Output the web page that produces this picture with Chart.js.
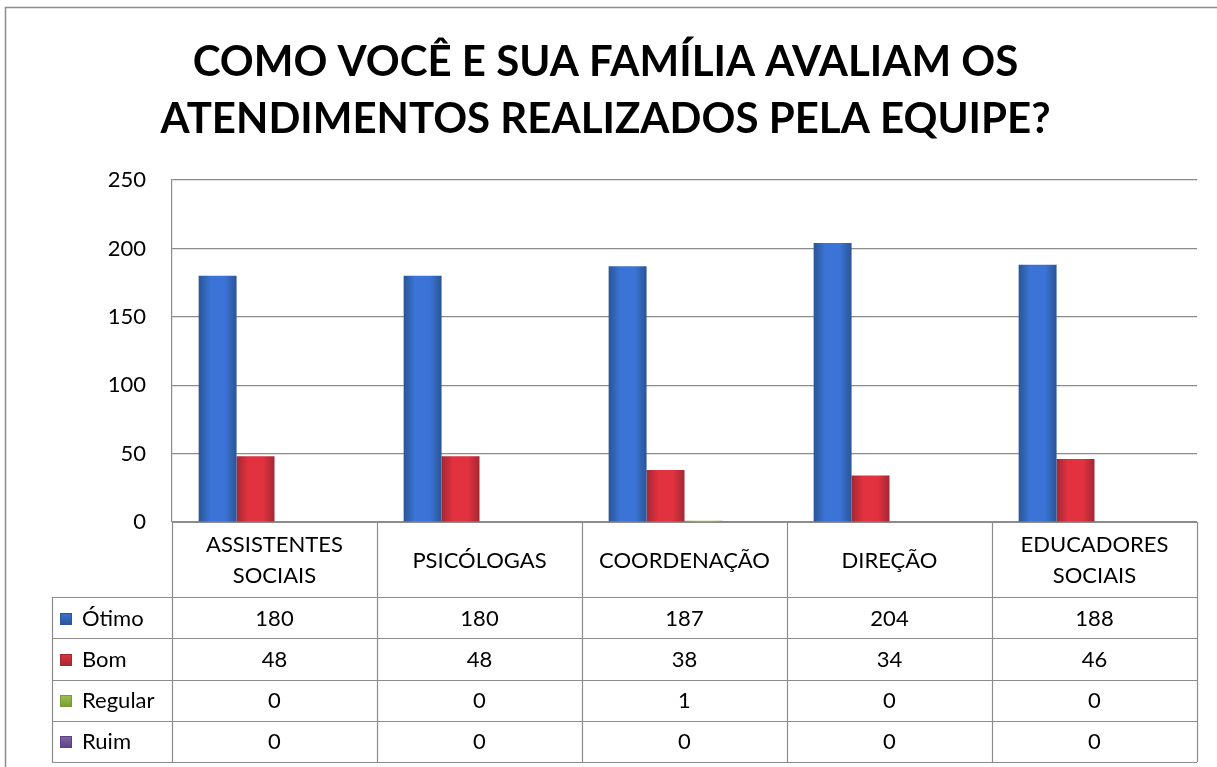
<!DOCTYPE html>
<html>
<head>
<meta charset="utf-8">
<script src="https://cdn.jsdelivr.net/npm/chart.js@4.4.0/dist/chart.umd.min.js"></script>
<style>
html,body{margin:0;padding:0;background:#fff;}
#wrap{position:relative;width:1217px;height:767px;}
</style>
</head>
<body>
<div id="wrap"><canvas id="c"></canvas></div>
<script>
const categories = [['ASSISTENTES','SOCIAIS'], ['PSICÓLOGAS'], ['COORDENAÇÃO'], ['DIREÇÃO'], ['EDUCADORES','SOCIAIS']];
const otimo   = [180, 180, 187, 204, 188];
const bom     = [48, 48, 38, 34, 46];
const regular = [0, 0, 1, 0, 0];
const ruim    = [0, 0, 0, 0, 0];
const seriesNames = ['Ótimo', 'Bom', 'Regular', 'Ruim'];
const yTicks = [0, 50, 100, 150, 200, 250];
const titleLines = ['COMO VOCÊ E SUA FAMÍLIA AVALIAM OS', 'ATENDIMENTOS REALIZADOS PELA EQUIPE?'];

const FONT = 'Lato, "Open Sans", sans-serif';
const CAT_PCT = 0.74;
const palette = [
  {edge:'#2a5595', mid:'#3b74d6', key:'#3a6fc2'},
  {edge:'#a32833', mid:'#e2313f', key:'#c0383f'},
  {edge:'#7a9a34', mid:'#9cc24a', key:'#8fb344'},
  {edge:'#5c3f86', mid:'#8064a2', key:'#7455a0'}
];

function barGradient(ctx) {
  const chart = ctx.chart;
  const pal = palette[ctx.datasetIndex];
  const xs = chart.scales && chart.scales.x;
  if (!xs || !chart.chartArea || ctx.dataIndex === undefined) return pal.mid;
  const n = chart.data.datasets.length;
  const cw = (xs.right - xs.left) / chart.data.labels.length;
  const bw = cw * CAT_PCT / n;
  const cx = xs.getPixelForValue(ctx.dataIndex);
  const left = cx - cw * CAT_PCT / 2 + ctx.datasetIndex * bw;
  const g = chart.ctx.createLinearGradient(left, 0, left + bw, 0);
  g.addColorStop(0, pal.edge);
  g.addColorStop(0.3, pal.mid);
  g.addColorStop(0.7, pal.mid);
  g.addColorStop(1, pal.edge);
  return g;
}

const frame = {
  id: 'frame',
  beforeDraw(chart) {
    const c = chart.ctx;
    c.save();
    c.strokeStyle = '#8c8c8c';
    c.lineWidth = 1.5;
    c.beginPath();
    c.moveTo(5.5, 767);
    c.lineTo(5.5, 7.5);
    c.lineTo(1217, 7.5);
    c.stroke();
    c.restore();
  }
};

const dataTable = {
  id: 'dataTable',
  afterDraw(chart) {
    const c = chart.ctx;
    const xs = chart.scales.x;
    const area = chart.chartArea;
    const nCat = chart.data.labels.length;
    const cw = (area.right - area.left) / nCat;
    const top = area.bottom;
    const headerBottom = 597;
    const rowH = 41.25;
    const legendLeft = 52;
    const rows = chart.data.datasets.length;
    const bottom = headerBottom + rows * rowH;
    c.save();
    c.strokeStyle = '#8c8c8c';
    c.lineWidth = 1.2;
    c.beginPath();
    c.moveTo(area.left, top + 0.5); c.lineTo(area.right, top + 0.5);
    for (let i = 0; i <= nCat; i++) {
      const x = Math.round(area.left + i * cw) + 0.5;
      c.moveTo(x, top); c.lineTo(x, bottom);
    }
    for (let r = 0; r <= rows; r++) {
      const y = Math.round(headerBottom + r * rowH) + 0.5;
      c.moveTo(legendLeft, y); c.lineTo(area.right, y);
    }
    c.moveTo(legendLeft + 0.5, headerBottom); c.lineTo(legendLeft + 0.5, bottom);
    c.stroke();

    c.fillStyle = '#000';
    c.font = '22px ' + FONT;
    c.textAlign = 'center';
    c.textBaseline = 'middle';
    chart.data.labels.forEach((lab, i) => {
      const cx = xs.getPixelForValue(i);
      const lines = Array.isArray(lab) ? lab : [lab];
      const mid = (top + headerBottom) / 2 + 1;
      const lh = 31;
      lines.forEach((t, k) => {
        c.fillText(t, cx, mid + (k - (lines.length - 1) / 2) * lh);
      });
    });
    chart.data.datasets.forEach((ds, r) => {
      const cy = headerBottom + (r + 0.5) * rowH + 1;
      ds.data.forEach((v, i) => {
        c.textAlign = 'center';
        c.fillText(String(v), xs.getPixelForValue(i), cy);
      });
      const pal = palette[r];
      const kx = 60, ks = 12;
      const g = c.createLinearGradient(0, cy - ks / 2, 0, cy + ks / 2);
      g.addColorStop(0, pal.mid);
      g.addColorStop(1, pal.edge);
      c.fillStyle = g;
      c.fillRect(kx, Math.round(cy - ks / 2), ks, ks);
      c.strokeStyle = pal.edge;
      c.lineWidth = 1;
      c.strokeRect(kx + 0.5, Math.round(cy - ks / 2) + 0.5, ks - 1, ks - 1);
      c.fillStyle = '#000';
      c.textAlign = 'left';
      c.fillText(ds.label, 82, cy);
    });
    c.restore();
  }
};

const seriesValues = [otimo, bom, regular, ruim];
new Chart(document.getElementById('c'), {
  type: 'bar',
  data: {
    labels: categories,
    datasets: seriesNames.map((name, i) => ({
      label: name,
      data: seriesValues[i],
      backgroundColor: barGradient,
      borderColor: palette[i].edge,
      borderWidth: 0,
      categoryPercentage: CAT_PCT,
      barPercentage: 1
    }))
  },
  options: {
    responsive: true,
    maintainAspectRatio: false,
    animation: false,
    layout: { padding: { left: 14, right: 20, top: 0, bottom: 245 } },
    plugins: {
      legend: { display: false },
      tooltip: { enabled: false },
      title: {
        display: true,
        text: titleLines,
        color: '#000',
        font: { family: FONT, size: 42, weight: 'bold', lineHeight: 1.36 },
        padding: { top: 34, bottom: 31.8 }
      }
    },
    scales: {
      x: {
        display: false,
        grid: { display: false }
      },
      y: {
        min: 0,
        max: 250,
        afterBuildTicks(scale) { scale.ticks = yTicks.map(v => ({ value: v })); },
        afterFit(scale) { scale.width = 158; },
        grid: { color: '#8c8c8c', lineWidth: 1.2, drawTicks: false },
        border: { display: true, color: '#8c8c8c', width: 1.2 },
        ticks: { color: '#000', padding: 26, font: { family: FONT, size: 22 } }
      }
    }
  },
  plugins: [frame, dataTable]
});
</script>
</body>
</html>
